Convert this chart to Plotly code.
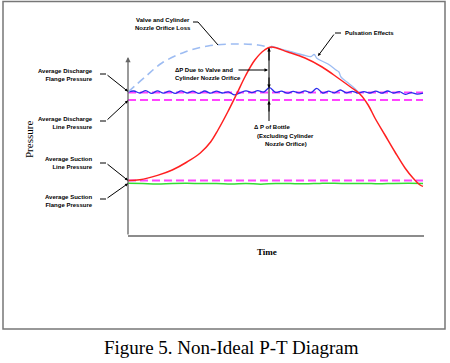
import plotly.graph_objects as go

# ---------------- data (schematic P-T values) ----------------
# time in % of stroke, pressure in arbitrary units
red_t = [0, 4, 10, 15, 20, 24.5, 28, 30.5, 33.8, 37, 39.8, 43, 46.3, 48.5,
         54.2, 60, 65.8, 71.2, 75.9, 78.6, 81.4, 83.7, 87.1, 90.5, 93.9, 96.6, 99, 100]
red_p = [27.75, 28.1, 30.3, 33, 37, 41.5, 47, 53, 62, 71.5, 80, 88, 93, 94.5,
         92, 89, 84.5, 79, 74, 71, 65.5, 59, 50.5, 42, 34, 29, 25.5, 24.8]

arc_t = [0, 5.8, 11.5, 19.3, 27.1, 35.3, 44.1, 48.8]
arc_p = [72, 79.5, 86.5, 92, 95, 96, 95.5, 94]

puls_t = [48.5, 54.2, 59.3, 62.0, 63.1, 64.1, 67.8, 70.5, 71.5, 72.2, 74.2, 76.3, 78.0]
puls_p = [95, 92.5, 90.5, 89.75, 90.75, 88.75, 86, 83, 82, 79.5, 77, 74.5, 72]

disch_t = [0, 2, 4, 6, 8, 10, 12, 14, 16, 18, 20, 22, 24, 26, 28, 30, 32, 34, 36, 38,
           40, 42, 44, 46, 48, 50, 52, 54, 56, 58, 60, 62, 64, 66, 68, 70, 72, 74, 76,
           78, 80, 82, 84, 86, 88, 90, 92, 94, 96, 98, 100]
disch_p = [72.0, 72.5, 71.5, 72.7, 71.3, 72.6, 71.4, 72.4, 71.3, 72.6, 71.5, 72.4, 71.3,
           72.5, 71.4, 72.4, 71.5, 72.1, 70.6, 71.6, 72.6, 71.7, 72.7, 72.0, 74.2, 71.8,
           72.4, 71.4, 72.3, 71.6, 72.6, 71.7, 73.8, 71.5, 72.4, 71.6, 73.0, 71.6, 72.3,
           71.5, 72.2, 71.5, 72.4, 71.4, 72.5, 71.5, 72.2, 70.8, 71.7, 70.9, 71.4]

suct_t = [0, 5, 10, 15, 20, 25, 30, 35, 40, 45, 50, 55, 60, 65, 70, 75, 80, 85, 90, 95, 100]
suct_p = [26.4, 26.2, 26.0, 26.3, 26.4, 26.2, 26.3, 26.0, 26.3, 25.9, 26.3, 26.2, 26.1,
          26.3, 26.4, 26.2, 26.3, 26.1, 26.3, 26.4, 26.3]

level_names = ["Average Discharge Flange", "Average Discharge Line", "Average Suction Line"]
level_p = [71.75, 68.0, 27.75]
level_t = [0, 100]

# ---------------- geometry helpers (layout only) ----------------
W, H = 450, 363
def X(px):
    return px / W
def Y(py):
    return 1 - py / H

fig = go.Figure()

MAG = "#ff44ff"
for name, p in zip(level_names, level_p):
    fig.add_trace(go.Scatter(x=level_t, y=[p, p], mode="lines", name=name,
                             line=dict(color=MAG, width=2, dash="8px,4px")))

fig.add_trace(go.Scatter(x=suct_t, y=suct_p, mode="lines", line_shape="spline",
                         line=dict(color="#33dd33", width=1.5)))
fig.add_trace(go.Scatter(x=disch_t, y=disch_p, mode="lines", line_shape="spline",
                         line=dict(color="#2b2bee", width=1.3)))
fig.add_trace(go.Scatter(x=arc_t, y=arc_p, mode="lines", line_shape="spline",
                         line=dict(color="#9dbcf2", width=1.6, dash="8px,5px")))
fig.add_trace(go.Scatter(x=puls_t, y=puls_p, mode="lines", line_shape="spline",
                         line=dict(color="#9dbcf2", width=1.3)))
fig.add_trace(go.Scatter(x=red_t, y=red_p, mode="lines", line_shape="spline",
                         line=dict(color="#ff2020", width=1.5)))

shapes = []
# outer frame
shapes.append(dict(type="rect", xref="paper", yref="paper", x0=X(3), x1=X(445),
                   y0=Y(329), y1=Y(1.5), line=dict(color="#777777", width=1.5)))
# x axis
shapes.append(dict(type="line", xref="paper", yref="paper", x0=X(128), x1=X(424),
                   y0=Y(236), y1=Y(236), line=dict(color="#666666", width=1.3)))
# dimension line for delta P
shapes.append(dict(type="line", xref="paper", yref="paper", x0=X(269), x1=X(269),
                   y0=Y(48), y1=Y(121), line=dict(color="black", width=1)))

def seg(x0, y0, x1, y1):
    shapes.append(dict(type="line", xref="paper", yref="paper", x0=X(x0), x1=X(x1),
                       y0=Y(y0), y1=Y(y1), line=dict(color="black", width=1)))

anns = []
def arrow(hx, hy, tx, ty, color="black", width=1, size=0.7, head=2):
    anns.append(dict(xref="paper", yref="paper", x=X(hx), y=Y(hy), ax=tx - hx, ay=ty - hy,
                     text="", showarrow=True, arrowhead=head, arrowsize=size,
                     arrowwidth=width, arrowcolor=color, standoff=0, startstandoff=0))

def label(px, py, text, xanchor="right", align="right", size=6, family="Liberation Sans",
          weight="bold", angle=0):
    anns.append(dict(xref="paper", yref="paper", x=X(px), y=Y(py), text=text,
                     showarrow=False, xanchor=xanchor, yanchor="middle", align=align,
                     textangle=angle,
                     font=dict(family=family, size=size, color="black", weight=weight)))

# y axis with arrow
arrow(128, 57, 128, 236, color="#666666", width=1.3, size=0.8, head=2)

# left labels + leaders
label(95, 75.5, "Average Discharge<br>Flange Pressure")
seg(100, 74, 106, 74); arrow(128, 91.5, 106, 74, size=0.6)
label(95, 123, "Average Discharge<br>Line Pressure")
seg(100, 121, 106, 121); arrow(128, 100.5, 106, 121, size=0.6)
label(95, 163.5, "Average Suction<br>Line Pressure")
seg(100, 163, 106, 163); arrow(128, 180.5, 106, 163, size=0.6)
label(95, 201, "Average Suction<br>Flange Pressure")
seg(100, 199, 106, 199); arrow(128, 183.5, 106, 199, size=0.6)

# top label
label(163, 24.5, "Valve and Cylinder<br>Nozzle Orifice Loss", xanchor="center", align="center")
seg(193, 22, 198, 22); seg(198, 22, 218, 45)

# pulsation
label(343, 33, "Pulsation Effects", xanchor="left", align="left")
seg(341, 33, 335, 33); arrow(318, 56, 335, 33, size=0.6)

# delta P due to valve
label(173, 73.5, "\u0394P Due to Valve and<br>Cylinder Nozzle Orifice", xanchor="left", align="left")
arrow(268, 70, 237, 70, size=0.7)

# dimension arrowheads
arrow(269, 48, 269, 62, size=0.7)
arrow(269, 88, 269, 76, size=0.7)
arrow(269, 101, 269, 113, size=0.7)

# delta P of bottle
label(272, 127, "\u0394 P of Bottle", xanchor="center", align="center")
label(285, 135.5, "(Excluding Cylinder", xanchor="center", align="center")
label(286, 144, "Nozzle Orifice)", xanchor="center", align="center")

# axis titles
label(267, 252, "Time", xanchor="center", align="center", size=9,
      family="Liberation Serif", weight="bold")
label(29, 140, "Pressure", xanchor="center", align="center", size=11,
      family="Liberation Serif", weight="normal", angle=-90)

# caption
label(231.5, 347, "Figure 5. Non-Ideal P-T Diagram", xanchor="center", align="center",
      size=19, family="Liberation Serif", weight="normal")

fig.update_layout(
    width=W, height=H, margin=dict(l=0, r=0, t=0, b=0),
    paper_bgcolor="white", plot_bgcolor="white", showlegend=False,
    xaxis=dict(range=[-128 / 2.95, (W - 128) / 2.95], visible=False, domain=[0, 1]),
    yaxis=dict(range=[(236 - H) / 2, 236 / 2], visible=False, domain=[0, 1]),
    shapes=shapes, annotations=anns,
)

fig.write_html("out.html", post_script="document.body.style.margin='0';",
               config={"displayModeBar": False})
